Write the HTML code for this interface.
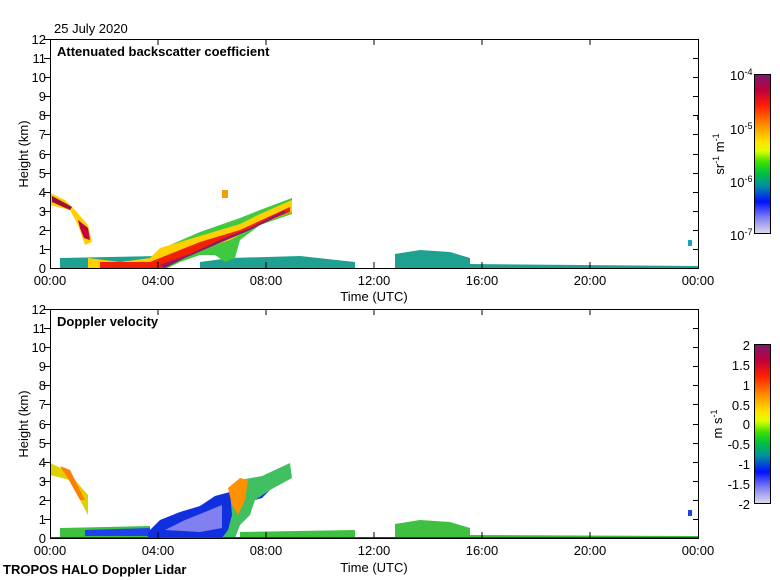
<!DOCTYPE html>
<html><head><meta charset="utf-8"><style>
body{margin:0;background:#fff}
svg{display:block}
text{font-family:"Liberation Sans",sans-serif;font-size:13px;fill:#000}
.b{font-weight:bold}
</style></head><body>
<svg width="780" height="580" xmlns="http://www.w3.org/2000/svg">
<defs>
<linearGradient id="cb" x1="0" y1="0" x2="0" y2="1">
<stop offset="0" stop-color="#7a1a6e"/>
<stop offset="0.1" stop-color="#c0003a"/>
<stop offset="0.2" stop-color="#ff2000"/>
<stop offset="0.32" stop-color="#ff9000"/>
<stop offset="0.42" stop-color="#ffe000"/>
<stop offset="0.48" stop-color="#e0ff00"/>
<stop offset="0.55" stop-color="#40e000"/>
<stop offset="0.62" stop-color="#00c040"/>
<stop offset="0.7" stop-color="#0090a0"/>
<stop offset="0.8" stop-color="#0010ff"/>
<stop offset="0.9" stop-color="#8080f0"/>
<stop offset="1" stop-color="#e0dcec"/>
</linearGradient>
</defs>
<text x="54" y="33">25 July 2020</text>

<!-- PLOT 1 -->
<g>
<polygon points="60,258 160,256 160,268 60,268" fill="#20a090"/>
<polygon points="200,262 230,258 300,256 355,262 355,268 200,268" fill="#20a090"/>
<polygon points="395,254 420,250 450,252 470,258 470,268 395,268" fill="#20a090"/>
<polygon points="470,264 699,266 699,268 470,268" fill="#20a090"/>
<polygon points="148,262 170,245 200,232 240,218 260,210 292,198 292,214 260,225 240,240 235,258 225,262 215,255 200,255 180,262 168,268 148,268" fill="#40c840"/>
<polygon points="50,193 65,200 75,210 88,225 92,242 85,245 78,225 70,210 50,205" fill="#ffd000"/>
<polygon points="52,196 65,203 72,207 70,210 52,202" fill="#a0103a"/>
<polygon points="78,220 88,228 90,240 84,238 80,228" fill="#c00040"/>
<polygon points="88,258 120,262 150,258 160,248 200,236 240,224 260,214 292,200 292,212 260,224 230,240 200,250 170,262 160,268 88,268" fill="#ffd000"/>
<polygon points="100,262 150,262 170,254 200,242 240,230 290,207 290,212 250,228 210,246 180,258 165,268 100,268" fill="#f02000"/>
<polygon points="160,265 190,254 220,240 250,228 285,210 285,213 250,230 215,245 185,258 165,268" fill="#8a1a6a"/>
<polygon points="222,190 228,190 228,198 222,198" fill="#f0a000"/>
<polygon points="697,115 699,115 699,120 697,120" fill="#e02020"/>
<polygon points="688,240 692,240 692,246 688,246" fill="#20a0c0"/>
<rect x="50.5" y="39.5" width="648" height="229" fill="none" stroke="#000"/>
<g stroke="#000">
<line x1="158" y1="39" x2="158" y2="45"/><line x1="266" y1="39" x2="266" y2="45"/><line x1="374" y1="39" x2="374" y2="45"/><line x1="482" y1="39" x2="482" y2="45"/><line x1="590" y1="39" x2="590" y2="45"/>
<line x1="158" y1="268" x2="158" y2="262"/><line x1="266" y1="268" x2="266" y2="262"/><line x1="374" y1="268" x2="374" y2="262"/><line x1="482" y1="268" x2="482" y2="262"/><line x1="590" y1="268" x2="590" y2="262"/>
</g>
<g stroke="#000" id="yt1">
<line x1="44" y1="39.5" x2="50" y2="39.5"/><line x1="44" y1="58.5" x2="50" y2="58.5"/><line x1="44" y1="77.5" x2="50" y2="77.5"/><line x1="44" y1="96.5" x2="50" y2="96.5"/><line x1="44" y1="115.5" x2="50" y2="115.5"/><line x1="44" y1="134.5" x2="50" y2="134.5"/><line x1="44" y1="154.5" x2="50" y2="154.5"/><line x1="44" y1="173.5" x2="50" y2="173.5"/><line x1="44" y1="192.5" x2="50" y2="192.5"/><line x1="44" y1="211.5" x2="50" y2="211.5"/><line x1="44" y1="230.5" x2="50" y2="230.5"/><line x1="44" y1="249.5" x2="50" y2="249.5"/>
<line x1="699" y1="58.5" x2="693" y2="58.5"/><line x1="699" y1="77.5" x2="693" y2="77.5"/><line x1="699" y1="96.5" x2="693" y2="96.5"/><line x1="699" y1="115.5" x2="693" y2="115.5"/><line x1="699" y1="134.5" x2="693" y2="134.5"/><line x1="699" y1="154.5" x2="693" y2="154.5"/><line x1="699" y1="173.5" x2="693" y2="173.5"/><line x1="699" y1="192.5" x2="693" y2="192.5"/><line x1="699" y1="211.5" x2="693" y2="211.5"/><line x1="699" y1="230.5" x2="693" y2="230.5"/><line x1="699" y1="249.5" x2="693" y2="249.5"/>
</g>
<g text-anchor="end">
<text x="46" y="44">12</text><text x="46" y="63">11</text><text x="46" y="82">10</text><text x="46" y="101">9</text><text x="46" y="120">8</text><text x="46" y="139">7</text><text x="46" y="159">6</text><text x="46" y="178">5</text><text x="46" y="197">4</text><text x="46" y="216">3</text><text x="46" y="235">2</text><text x="46" y="254">1</text><text x="46" y="273">0</text>
</g>
<g text-anchor="middle">
<text x="50" y="285">00:00</text><text x="158" y="285">04:00</text><text x="266" y="285">08:00</text><text x="374" y="285">12:00</text><text x="482" y="285">16:00</text><text x="590" y="285">20:00</text><text x="698" y="285">00:00</text>
<text x="374" y="301">Time (UTC)</text>
</g>
<text x="28" y="154" text-anchor="middle" transform="rotate(-90 28 154)">Height (km)</text>
<text x="57" y="56" class="b">Attenuated backscatter coefficient</text>
<rect x="754.5" y="74.5" width="16" height="159" fill="url(#cb)" stroke="#000"/>
<text x="730" y="80">10<tspan dy="-5" font-size="9">-4</tspan></text>
<text x="730" y="134">10<tspan dy="-5" font-size="9">-5</tspan></text>
<text x="730" y="187">10<tspan dy="-5" font-size="9">-6</tspan></text>
<text x="730" y="240">10<tspan dy="-5" font-size="9">-7</tspan></text>
<text x="724" y="154" text-anchor="middle" transform="rotate(-90 724 154)">sr<tspan dy="-5" font-size="9">-1</tspan><tspan dy="5"> m</tspan><tspan dy="-5" font-size="9">-1</tspan></text>
</g>

<!-- PLOT 2 -->
<g>
<polygon points="60,528 150,526 150,538 60,538" fill="#40c040"/>
<polygon points="85,530 150,528 150,536 85,536" fill="#2040f0"/>
<polygon points="148,532 160,522 180,514 200,506 220,500 230,492 240,480 262,476 290,463 292,478 270,490 255,500 250,515 240,525 235,538 148,538" fill="#40c060"/>
<polygon points="148,532 160,520 180,512 200,506 215,496 230,492 232,515 228,530 222,538 148,538" fill="#1030e0"/>
<polygon points="165,530 185,520 205,512 222,505 222,528 200,532" fill="#8080f0"/>
<polygon points="228,488 240,478 248,480 245,500 238,515 232,505" fill="#ff9000"/>
<polygon points="255,500 270,490 262,498" fill="#1030e0"/>
<polygon points="50,463 65,470 75,480 88,495 88,515 80,500 70,480 50,475" fill="#e0d000"/>
<polygon points="60,466 70,470 80,490 85,500 80,500 70,482" fill="#ff8000"/>
<polygon points="240,532 355,530 355,538 240,538" fill="#40c040"/>
<polygon points="395,524 420,520 450,522 470,528 470,538 395,538" fill="#40c040"/>
<polygon points="470,535 699,536 699,538 470,538" fill="#40c040"/>
<polygon points="50,537 699,537 699,539 50,539" fill="#7a1a6e"/>
<polygon points="688,510 692,510 692,516 688,516" fill="#2040f0"/>
<rect x="50.5" y="309.5" width="648" height="229" fill="none" stroke="#000"/>
<g stroke="#000">
<line x1="158" y1="309" x2="158" y2="315"/><line x1="266" y1="309" x2="266" y2="315"/><line x1="374" y1="309" x2="374" y2="315"/><line x1="482" y1="309" x2="482" y2="315"/><line x1="590" y1="309" x2="590" y2="315"/>
<line x1="158" y1="538" x2="158" y2="532"/><line x1="266" y1="538" x2="266" y2="532"/><line x1="374" y1="538" x2="374" y2="532"/><line x1="482" y1="538" x2="482" y2="532"/><line x1="590" y1="538" x2="590" y2="532"/>
</g>
<use href="#yt1" transform="translate(0,270)"/>
<g text-anchor="end" transform="translate(0,270)">
<text x="46" y="44">12</text><text x="46" y="63">11</text><text x="46" y="82">10</text><text x="46" y="101">9</text><text x="46" y="120">8</text><text x="46" y="139">7</text><text x="46" y="159">6</text><text x="46" y="178">5</text><text x="46" y="197">4</text><text x="46" y="216">3</text><text x="46" y="235">2</text><text x="46" y="254">1</text><text x="46" y="273">0</text>
</g>
<g text-anchor="middle">
<text x="50" y="555">00:00</text><text x="158" y="555">04:00</text><text x="266" y="555">08:00</text><text x="374" y="555">12:00</text><text x="482" y="555">16:00</text><text x="590" y="555">20:00</text><text x="698" y="555">00:00</text>
<text x="374" y="572">Time (UTC)</text>
</g>
<text x="28" y="424" text-anchor="middle" transform="rotate(-90 28 424)">Height (km)</text>
<text x="57" y="326" class="b">Doppler velocity</text>
<rect x="754.5" y="344.5" width="16" height="159" fill="url(#cb)" stroke="#000"/>
<g text-anchor="end">
<text x="750" y="350">2</text><text x="750" y="370">1.5</text><text x="750" y="390">1</text><text x="750" y="410">0.5</text><text x="750" y="429">0</text><text x="750" y="449">-0.5</text><text x="750" y="469">-1</text><text x="750" y="489">-1.5</text><text x="750" y="509">-2</text>
</g>
<text x="722" y="424" text-anchor="middle" transform="rotate(-90 722 424)">m s<tspan dy="-5" font-size="9">-1</tspan></text>
</g>
<text x="3" y="574" class="b">TROPOS HALO Doppler Lidar</text>
</svg>
</body></html>
